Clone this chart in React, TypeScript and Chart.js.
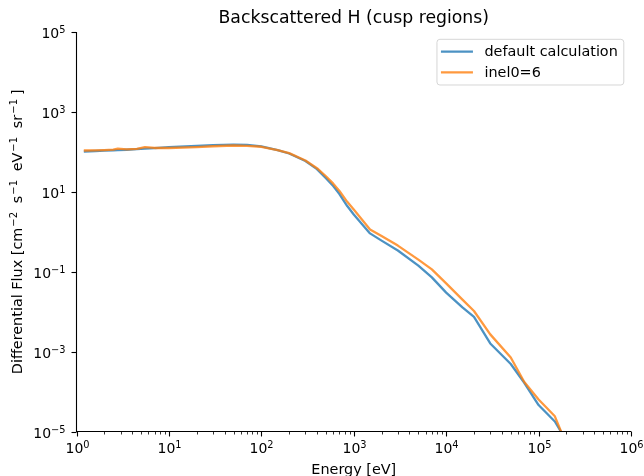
import React, { useEffect, useRef } from 'react';
import { Chart, registerables } from 'chart.js';

Chart.register(...registerables);

// ---- data ----
const energy = [1.2, 1.6, 2, 2.5, 2.8, 3.5, 4.5, 5.5, 7, 10, 20, 30, 50, 70, 100, 150, 200, 300, 400, 500, 600, 700, 850, 1000, 1500, 2000, 3000, 5000, 7000, 1e4, 1.5e4, 2e4, 3e4, 5e4, 7e4, 1e5, 1.5e5, 1.75e5, 2e5];
const fluxDefault = [102, 105, 107, 109, 110, 113, 117, 120, 124, 132, 140, 147, 152, 150, 137, 111, 91, 59, 37, 22, 14, 8.8, 4.4, 2.7, 0.91, 0.6, 0.34, 0.142, 0.072, 0.03, 0.0128, 0.0074, 0.0016, 4.9e-4, 1.66e-4, 4.6e-5, 1.78e-5, 9.8e-6, 6e-6];
const fluxInel0 = [108, 109, 111, 114, 121, 115, 119, 131, 125, 125, 132, 138, 144, 141, 134, 111, 93, 61, 39, 24.5, 16, 10.5, 5.6, 3.6, 1.14, 0.78, 0.45, 0.2, 0.114, 0.051, 0.02, 0.0104, 0.0027, 7.1e-4, 1.74e-4, 6.3e-5, 2.4e-5, 1.0e-5, 4.6e-6];
const seriesLabels = ['default calculation', 'inel0=6'];
const xMajorExps = [0, 1, 2, 3, 4, 5, 6];
const yMajorExps = [-5, -3, -1, 1, 3, 5];
const titleText = 'Backscattered H (cusp regions)';
const xTitle = 'Energy [eV]';
const yTitleParts: [string, boolean][] = [
  ['Differential Flux [cm', false], ['\u22122', true], [' s', false], ['\u22121', true],
  [' eV', false], ['\u22121', true], [' sr', false], ['\u22121', true], [']', false],
];

const BLUE = 'rgba(31,119,180,0.8)';
const ORANGE = 'rgba(255,127,14,0.8)';
const FONT = "'DejaVu Sans', sans-serif";
const TICK_FS = 14;
const LABEL_FS = 14.4;
const TITLE_FS = 17.3;

function drawPow(ctx: CanvasRenderingContext2D, x: number, y: number, exp: number, size: number, align: string) {
  const base = '10';
  const supSize = size * 0.7;
  const es = exp < 0 ? '\u2212' + Math.abs(exp) : String(exp);
  ctx.font = `${size}px ${FONT}`;
  const wb = ctx.measureText(base).width;
  ctx.font = `${supSize}px ${FONT}`;
  const we = ctx.measureText(es).width;
  const total = wb + we;
  const x0 = align === 'center' ? x - total / 2 : align === 'right' ? x - total : x;
  ctx.textAlign = 'left';
  ctx.textBaseline = 'alphabetic';
  ctx.font = `${size}px ${FONT}`;
  ctx.fillText(base, x0, y);
  ctx.font = `${supSize}px ${FONT}`;
  ctx.fillText(es, x0 + wb, y - size * 0.33);
}

const mplPlugin = {
  id: 'mplAxes',
  afterDraw(chart: any) {
    const ctx: CanvasRenderingContext2D = chart.ctx;
    const { left, right, top, bottom } = chart.chartArea;
    const xs = chart.scales.x;
    const ys = chart.scales.y;
    ctx.save();
    ctx.fillStyle = '#000';
    ctx.strokeStyle = '#000';

    // spines
    ctx.lineWidth = 1.1;
    ctx.beginPath();
    ctx.moveTo(left, top);
    ctx.lineTo(left, bottom);
    ctx.lineTo(right, bottom);
    ctx.stroke();

    // x ticks
    for (const e of xMajorExps) {
      const px = Math.round(xs.getPixelForValue(Math.pow(10, e))) + 0.5;
      ctx.lineWidth = 1.1;
      ctx.beginPath();
      ctx.moveTo(px, bottom);
      ctx.lineTo(px, bottom + 5);
      ctx.stroke();
      drawPow(ctx, px, bottom + 21, e, TICK_FS, 'center');
      if (e < 6) {
        for (let m = 2; m <= 9; m++) {
          const mp = Math.round(xs.getPixelForValue(m * Math.pow(10, e))) + 0.5;
          ctx.lineWidth = 0.8;
          ctx.beginPath();
          ctx.moveTo(mp, bottom);
          ctx.lineTo(mp, bottom + 3);
          ctx.stroke();
        }
      }
    }
    // y ticks
    for (const e of yMajorExps) {
      const py = Math.round(ys.getPixelForValue(Math.pow(10, e))) + 0.5;
      ctx.lineWidth = 1.1;
      ctx.beginPath();
      ctx.moveTo(left, py);
      ctx.lineTo(left - 5, py);
      ctx.stroke();
      drawPow(ctx, left - 11, py + 5.3, e, TICK_FS, 'right');
    }

    // x title
    ctx.font = `${LABEL_FS}px ${FONT}`;
    ctx.textAlign = 'center';
    ctx.textBaseline = 'alphabetic';
    ctx.fillText(xTitle, (left + right) / 2, 474);

    // y title (rotated), mathtext-like spacing around superscripts
    const supFs = LABEL_FS * 0.7;
    const supPadBefore = 1;
    const supPadAfter = 4;
    let total = 0;
    const widths: number[] = [];
    for (const [t, sup] of yTitleParts) {
      ctx.font = `${sup ? supFs : LABEL_FS}px ${FONT}`;
      const w = ctx.measureText(t).width + (sup ? supPadBefore + supPadAfter : 0);
      widths.push(w);
      total += w;
    }
    ctx.save();
    ctx.translate(22, (top + bottom) / 2);
    ctx.rotate(-Math.PI / 2);
    ctx.textAlign = 'left';
    let cx = -total / 2;
    yTitleParts.forEach(([t, sup], i) => {
      ctx.font = `${sup ? supFs : LABEL_FS}px ${FONT}`;
      ctx.fillText(t, cx + (sup ? supPadBefore : 0), sup ? -LABEL_FS * 0.36 : 0);
      cx += widths[i];
    });
    ctx.restore();

    // title
    ctx.font = `${TITLE_FS}px ${FONT}`;
    ctx.textAlign = 'center';
    ctx.fillText(titleText, (left + right) / 2, 22.5);

    // legend
    const ds = chart.data.datasets;
    ctx.font = `${LABEL_FS}px ${FONT}`;
    let maxW = 0;
    for (const d of ds) maxW = Math.max(maxW, ctx.measureText(d.label).width);
    const frameRight = right - 7.2;
    const frameTop = top + 7.3;
    const handleLen = 32;
    const frameW = 4 + handleLen + 11.5 + maxW + 6;
    const frameLeft = frameRight - frameW;
    const frameH = 45.7;
    const r = 3;
    ctx.beginPath();
    ctx.moveTo(frameLeft + r, frameTop);
    ctx.lineTo(frameRight - r, frameTop);
    ctx.arcTo(frameRight, frameTop, frameRight, frameTop + r, r);
    ctx.lineTo(frameRight, frameTop + frameH - r);
    ctx.arcTo(frameRight, frameTop + frameH, frameRight - r, frameTop + frameH, r);
    ctx.lineTo(frameLeft + r, frameTop + frameH);
    ctx.arcTo(frameLeft, frameTop + frameH, frameLeft, frameTop + frameH - r, r);
    ctx.lineTo(frameLeft, frameTop + r);
    ctx.arcTo(frameLeft, frameTop, frameLeft + r, frameTop, r);
    ctx.closePath();
    ctx.fillStyle = 'rgba(255,255,255,0.8)';
    ctx.fill();
    ctx.strokeStyle = 'rgba(204,204,204,0.8)';
    ctx.lineWidth = 1;
    ctx.stroke();

    ds.forEach((d: any, i: number) => {
      const rowY = frameTop + 12.4 + i * 20.6;
      ctx.strokeStyle = d.borderColor;
      ctx.lineWidth = 2.3;
      ctx.beginPath();
      ctx.moveTo(frameLeft + 4, rowY);
      ctx.lineTo(frameLeft + 4 + handleLen, rowY);
      ctx.stroke();
      ctx.fillStyle = '#000';
      ctx.font = `${LABEL_FS}px ${FONT}`;
      ctx.textAlign = 'left';
      ctx.textBaseline = 'middle';
      ctx.fillText(d.label, frameLeft + 4 + handleLen + 11.5, rowY + 0.5);
    });

    ctx.restore();
  },
};

export default function App() {
  const ref = useRef<HTMLCanvasElement | null>(null);
  useEffect(() => {
    if (!ref.current) return;
    const chart = new Chart(ref.current, {
      type: 'line',
      data: {
        datasets: [
          {
            label: seriesLabels[0],
            data: energy.map((e, i) => ({ x: e, y: fluxDefault[i] })),
            borderColor: BLUE,
            backgroundColor: BLUE,
            borderWidth: 2.3,
            borderJoinStyle: 'round',
            pointRadius: 0,
            tension: 0,
            order: 1,
            clip: 0,
          },
          {
            label: seriesLabels[1],
            data: energy.map((e, i) => ({ x: e, y: fluxInel0[i] })),
            borderColor: ORANGE,
            backgroundColor: ORANGE,
            borderWidth: 2.3,
            borderJoinStyle: 'round',
            pointRadius: 0,
            tension: 0,
            order: 0,
            clip: 0,
          },
        ],
      },
      options: {
        responsive: false,
        animation: false,
        devicePixelRatio: 1,
        events: [],
        layout: { padding: { left: 76.5, right: 13, top: 32, bottom: 44.5 } },
        scales: {
          x: { type: 'logarithmic', min: 1, max: 1e6, display: false },
          y: { type: 'logarithmic', min: 1e-5, max: 1e5, display: false },
        },
        plugins: {
          legend: { display: false },
          title: { display: false },
          tooltip: { enabled: false },
        },
      } as any,
      plugins: [mplPlugin],
    });
    return () => chart.destroy();
  }, []);
  return (
    <div style={{ position: 'fixed', left: 0, top: 0, width: 644, height: 476, background: '#fff' }}>
      <canvas ref={ref} width={644} height={476} style={{ display: 'block' }} />
    </div>
  );
}
